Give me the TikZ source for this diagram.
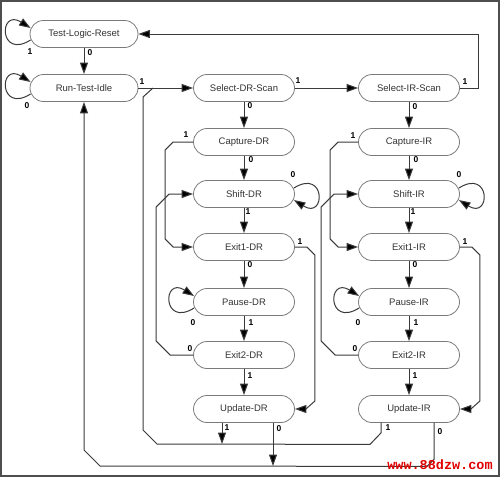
\documentclass[tikz,border=0pt]{standalone}
\usepackage{fontspec}
\setmainfont{Liberation Sans}
\newfontfamily\wmfont{Liberation Mono}
\usetikzlibrary{arrows.meta,calc}
\definecolor{stroke}{HTML}{7A7A7A}
\definecolor{txt}{HTML}{333333}
\definecolor{lncol}{HTML}{3A3A3A}
\definecolor{wmred}{HTML}{E00000}
\tikzset{
  st/.style={draw=stroke, fill=white, rounded corners=13.5pt, minimum width=101pt,
    minimum height=27pt, inner sep=0pt, font=\fontsize{9.5}{9.5}\selectfont, text=txt, line width=0.8pt},
  widest/.style={st, minimum width=108pt},
  conn/.style={draw=lncol, line width=1pt, -{Triangle[length=11.5pt,width=8pt,fill=black]}},
  wire/.style={draw=lncol, line width=1pt},
  lbl/.style={font=\fontsize{8.5}{8.5}\selectfont\bfseries, inner sep=0pt, text=black},
  wm/.style={font=\wmfont\bfseries\fontsize{13.5}{13.5}\selectfont, text=wmred, inner sep=0pt},
}
\begin{document}
\begin{tikzpicture}[x=1pt,y=-1pt]
\useasboundingbox (0,0) rectangle (500,477);
\draw[draw=lncol!90, line width=1.5pt] (0.75,0.75) rectangle (498.75,475.75);

% states
\node[widest] (tlr) at (84,34) {Test-Logic-Reset};
\node[widest] (rti) at (84,88) {Run-Test-Idle};
\node[st] (sdr) at (244,88) {Select-DR-Scan};
\node[st] (cdr) at (244,142) {Capture-DR};
\node[st] (shdr) at (244,194) {Shift-DR};
\node[st] (e1dr) at (244,247) {Exit1-DR};
\node[st] (pdr) at (244,302) {Pause-DR};
\node[st] (e2dr) at (244,355) {Exit2-DR};
\node[st] (udr) at (244,409) {Update-DR};
\node[st] (sir) at (409,88) {Select-IR-Scan};
\node[st] (cir) at (409,142) {Capture-IR};
\node[st] (shir) at (409,194) {Shift-IR};
\node[st] (e1ir) at (409,247) {Exit1-IR};
\node[st] (pir) at (409,302) {Pause-IR};
\node[st] (e2ir) at (409,355) {Exit2-IR};
\node[st] (uir) at (409,409) {Update-IR};

% coordinates for merge points
\coordinate (j1) at (153,88);
\coordinate (bus1d) at (222,444);
\coordinate (bus2d) at (273,466);

% top part
\draw[conn] ($(tlr.west)+(1,6)$) .. controls +(-32,20) and +(-32,-20) .. ($(tlr.west)+(1,-6)$);
\draw[conn] ($(rti.west)+(1,6)$) .. controls +(-32,20) and +(-32,-20) .. ($(rti.west)+(1,-6)$);
\draw[conn] (tlr.south) -- (rti.north);
\draw[conn] (rti.east) -- (sdr.west);
\draw[conn] (sdr.east) -- (sir.west);
\draw[conn] (sir.east) -- ++(19,0) |- (tlr.east);

% DR column
\draw[conn] (sdr.south) -- (cdr.north);
\draw[conn] (cdr.south) -- (shdr.north);
\draw[conn] (shdr.south) -- (e1dr.north);
\draw[conn] (e1dr.south) -- (pdr.north);
\draw[conn] (pdr.south) -- (e2dr.north);
\draw[conn] (e2dr.south) -- (udr.north);
\draw[conn] ($(shdr.east)+(-1,-6)$) .. controls +(32,-20) and +(32,20) .. ($(shdr.east)+(-1,6)$);
\draw[conn] ($(pdr.west)+(1,6)$) .. controls +(-32,20) and +(-32,-20) .. ($(pdr.west)+(1,-6)$);
\draw[conn] (cdr.west) -- ++(-20,0) -- ++(-8,8) -- ($(e1dr.west)+(-28,-8)$) -- ++(8,8) -- (e1dr.west);
\draw[conn] (e2dr.west) -- ++(-23,0) -- ++(-14,-14) -- ($(shdr.west)+(-37,13)$) -- ++(13,-13) -- (shdr.west);
\draw[conn] (e1dr.east) -- ++(12,0) -- ++(8,8) -- ($(udr.east)+(20,-8)$) -- ++(-9,8) -- (udr.east);

% IR column
\draw[conn] (sir.south) -- (cir.north);
\draw[conn] (cir.south) -- (shir.north);
\draw[conn] (shir.south) -- (e1ir.north);
\draw[conn] (e1ir.south) -- (pir.north);
\draw[conn] (pir.south) -- (e2ir.north);
\draw[conn] (e2ir.south) -- (uir.north);
\draw[conn] ($(shir.east)+(-1,-6)$) .. controls +(32,-20) and +(32,20) .. ($(shir.east)+(-1,6)$);
\draw[conn] ($(pir.west)+(1,6)$) .. controls +(-32,20) and +(-32,-20) .. ($(pir.west)+(1,-6)$);
\draw[conn] (cir.west) -- ++(-20,0) -- ++(-8,8) -- ($(e1ir.west)+(-28,-8)$) -- ++(8,8) -- (e1ir.west);
\draw[conn] (e2ir.west) -- ++(-23,0) -- ++(-14,-14) -- ($(shir.west)+(-37,13)$) -- ++(13,-13) -- (shir.west);
\draw[conn] (e1ir.east) -- ++(12,0) -- ++(8,8) -- ($(uir.east)+(20,-8)$) -- ++(-9,8) -- (uir.east);

% update exits
\draw[conn] ($(udr.south)+(-22,0)$) -- (bus1d);
\draw[conn] ($(udr.south)+(29,0)$) -- (bus2d);
\draw[wire] ($(uir.south)+(-28,0)$) -- ++(0,10) -- ++(-11,11.5) -- (157,444) -- (143,430) -- (143,97) -- (j1);
\draw[conn] ($(uir.south)+(25,0)$) -- ++(0,36.5) -- ++(-7,7) -- (100,466) -- (84,450) -- (rti.south);

% labels
\node[lbl] (l01) at (30,52) {1};
\node[lbl] (l02) at (90,53) {0};
\node[lbl] (l03) at (27,106) {0};
\node[lbl] (l04) at (142,82) {1};
\node[lbl] (l05) at (298,81) {1};
\node[lbl] (l06) at (465,82) {1};
\node[lbl] (l07) at (250,106) {0};
\node[lbl] (l08) at (186,135) {1};
\node[lbl] (l09) at (251,160) {0};
\node[lbl] (l10) at (293,175) {0};
\node[lbl] (l11) at (248,212) {1};
\node[lbl] (l12) at (300,242) {1};
\node[lbl] (l13) at (250,265) {0};
\node[lbl] (l14) at (193,323) {0};
\node[lbl] (l15) at (251,323) {1};
\node[lbl] (l16) at (190,349) {0};
\node[lbl] (l17) at (250,376) {1};
\node[lbl] (l18) at (227,428) {1};
\node[lbl] (l19) at (279,429) {0};
\node[lbl] (l27) at (415,107) {0};
\node[lbl] (l28) at (353,136) {1};
\node[lbl] (l29) at (416,160) {0};
\node[lbl] (l30) at (459,175) {0};
\node[lbl] (l31) at (413,212) {1};
\node[lbl] (l32) at (465,242) {1};
\node[lbl] (l33) at (415,265) {0};
\node[lbl] (l34) at (358,323) {0};
\node[lbl] (l35) at (416,323) {1};
\node[lbl] (l36) at (355,349) {0};
\node[lbl] (l37) at (415,376) {1};
\node[lbl] (l38) at (388,428) {1};
\node[lbl] (l39) at (440,432) {0};

% watermark
\node[wm] (wmk) at (440,465) {www.88dzw.com};
\end{tikzpicture}
\end{document}
